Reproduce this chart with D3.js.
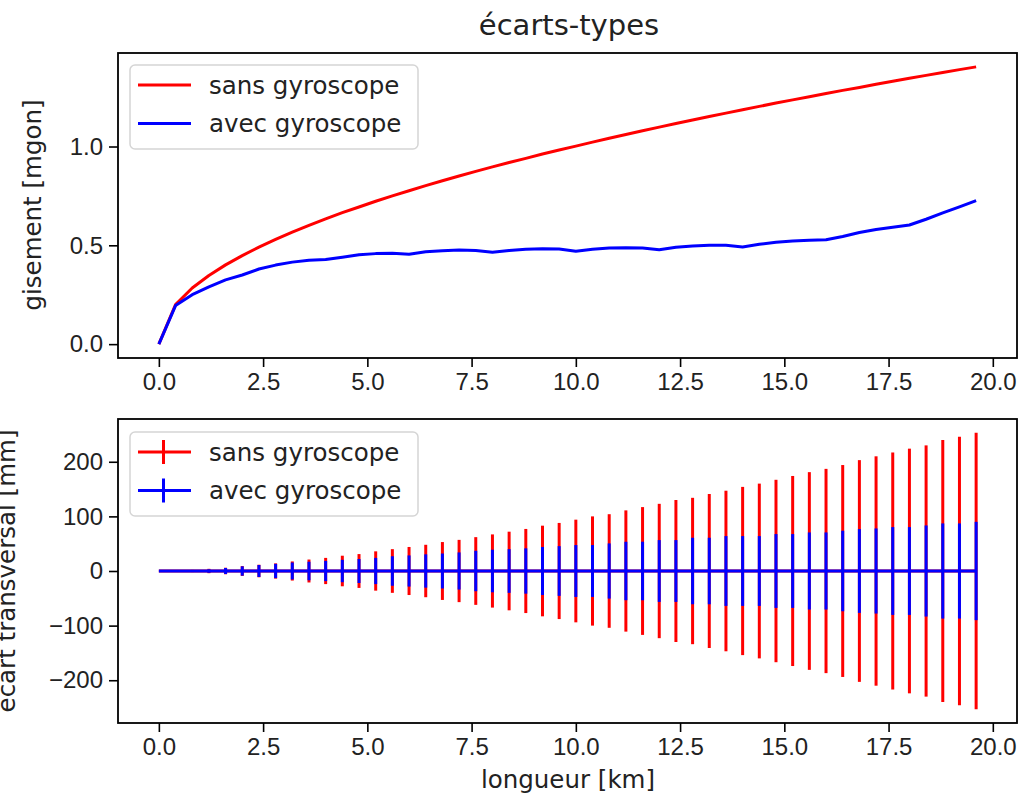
<!DOCTYPE html>
<html>
<head>
<meta charset="utf-8">
<script src="https://cdn.jsdelivr.net/npm/d3@7"></script>
<style>
  body { margin: 0; background: #fff; }
  svg { font-family: "DejaVu Sans", sans-serif; }
  .tick text { font-size: 24px; fill: #222; }
</style>
</head>
<body>
<div class="container"></div>
<script>
// distances along the traverse [km]
var longueur = [0, 0.4, 0.8, 1.2, 1.6, 2.0, 2.4, 2.8, 3.2, 3.6, 4.0, 4.4, 4.8, 5.2, 5.6, 6.0, 6.4, 6.8, 7.2, 7.6,
    8.0, 8.4, 8.8, 9.2, 9.6, 10.0, 10.4, 10.8, 11.2, 11.6, 12.0, 12.4, 12.8, 13.2, 13.6, 14.0, 14.4, 14.8, 15.2, 15.6,
    16.0, 16.4, 16.8, 17.2, 17.6, 18.0, 18.4, 18.8, 19.2, 19.6];

// gisement std dev [mgon]
var gisementSans = [0, 0.200, 0.284, 0.347, 0.401, 0.448, 0.491, 0.530, 0.567, 0.601, 0.634, 0.665, 0.694, 0.723, 0.750,
    0.776, 0.802, 0.827, 0.851, 0.874, 0.897, 0.919, 0.940, 0.962, 0.982, 1.002, 1.022, 1.042, 1.061, 1.080,
    1.098, 1.116, 1.134, 1.152, 1.169, 1.186, 1.203, 1.220, 1.236, 1.252, 1.268, 1.284, 1.299, 1.315, 1.330,
    1.345, 1.360, 1.374, 1.389, 1.403];
var gisementAvec = [0, 0.195, 0.25, 0.29, 0.325, 0.35, 0.38, 0.40, 0.415, 0.425, 0.428, 0.44, 0.452, 0.458, 0.46,
    0.455, 0.467, 0.473, 0.476, 0.474, 0.465, 0.474, 0.48, 0.483, 0.481, 0.47, 0.48, 0.486, 0.488, 0.486,
    0.478, 0.49, 0.497, 0.50, 0.50, 0.492, 0.505, 0.515, 0.522, 0.526, 0.528, 0.545, 0.565, 0.58, 0.592,
    0.603, 0.632, 0.664, 0.695, 0.726];

// transverse std dev [mm]
var transSans = [0, 0.7, 2, 4, 6, 9, 11.5, 14, 17.5, 21, 24, 28, 31, 36, 40, 44, 48, 53, 57, 62,
    67, 72, 77, 83, 88, 94, 100, 104, 111, 117, 123, 130, 134, 141, 147, 154, 160, 167, 174, 181,
    187, 194, 203, 210, 217, 224, 230, 240, 246, 253];
var transAvec = [0, 0.5, 1.5, 3, 5.5, 8.5, 11, 13, 15.5, 17, 18.5, 20.5, 22, 24, 27, 28.5, 30.5, 32, 34, 37,
    39, 40, 41.5, 44, 45.5, 47.5, 47.5, 50.5, 53.5, 53.6, 56.6, 56.6, 60.9, 60.9, 63.9, 63.9, 63.9, 67.6, 67.6, 70.6,
    70.6, 73.7, 76.7, 77.9, 80.4, 80.4, 83.4, 87.1, 87.1, 90];

var xTicks = [0, 2.5, 5, 7.5, 10, 12.5, 15, 17.5, 20];
var yTicksTop = [0, 0.5, 1.0];
var yTicksBottom = [-200, -100, 0, 100, 200];
var seriesNames = ["sans gyroscope", "avec gyroscope"];
var seriesColors = ["#ff0000", "#0000ff"];

var width = 1030, height = 802;
var left = 118, right = 1017;

var svg = d3.select('.container').append('svg')
    .attr('width', width)
    .attr('height', height);

function pad(lo, hi) {
    var m = (hi - lo) * 0.05;
    return [lo - m, hi + m];
}

var x = d3.scaleLinear().domain(pad(d3.min(longueur), d3.max(longueur))).range([left, right]);

function drawAxes(top, bottom, y, yTicks, yFmt) {
    var g = svg.append('g');
    g.append('g')
        .attr('transform', 'translate(0,' + bottom + ')')
        .call(d3.axisBottom(x).tickValues(xTicks).tickFormat(d3.format('.1f')).tickSizeOuter(0).tickSize(9).tickPadding(6));
    g.append('g')
        .attr('transform', 'translate(' + left + ',0)')
        .call(d3.axisLeft(y).tickValues(yTicks).tickFormat(yFmt).tickSizeOuter(0).tickSize(9).tickPadding(6));
    g.selectAll('.domain').remove();
    g.selectAll('.tick line').attr('stroke', '#000').attr('stroke-width', 1.6);
    g.append('rect')
        .attr('x', left).attr('y', top)
        .attr('width', right - left).attr('height', bottom - top)
        .attr('fill', 'none').attr('stroke', '#000').attr('stroke-width', 1.8);
}

function drawLegend(y0, errorStyle) {
    var lg = svg.append('g');
    lg.append('rect')
        .attr('x', 130).attr('y', y0)
        .attr('width', 288).attr('height', 84)
        .attr('rx', 5)
        .attr('fill', 'rgba(255,255,255,0.8)')
        .attr('stroke', '#d5d5d5').attr('stroke-width', 1.5);
    seriesNames.forEach(function (name, i) {
        var cy = y0 + 20 + i * 38.5;
        lg.append('line')
            .attr('x1', 138).attr('x2', 191).attr('y1', cy).attr('y2', cy)
            .attr('stroke', seriesColors[i]).attr('stroke-width', 3);
        if (errorStyle) {
            lg.append('line')
                .attr('x1', 163.5).attr('x2', 163.5).attr('y1', cy - 12).attr('y2', cy + 12)
                .attr('stroke', seriesColors[i]).attr('stroke-width', 3);
        }
        lg.append('text')
            .attr('x', 209).attr('y', cy + 8.5)
            .attr('font-size', '24.5px').attr('fill', '#222')
            .text(name);
    });
}

// ---- top: gisement
var topY = d3.scaleLinear().domain(pad(0, d3.max(gisementSans))).range([358, 53]);
drawAxes(53, 358, topY, yTicksTop, d3.format('.1f'));

var lineTop = d3.line()
    .x(function (d) { return x(d[0]); })
    .y(function (d) { return topY(d[1]); });

[gisementSans, gisementAvec].forEach(function (vals, i) {
    svg.append('path')
        .datum(d3.zip(longueur, vals))
        .attr('d', lineTop)
        .attr('fill', 'none')
        .attr('stroke', seriesColors[i])
        .attr('stroke-width', 3)
        .attr('stroke-linejoin', 'round');
});
drawLegend(65, false);

svg.append('text')
    .attr('x', 569).attr('y', 35)
    .attr('text-anchor', 'middle')
    .attr('font-size', '29px').attr('fill', '#222')
    .text('écarts-types');

svg.append('text')
    .attr('transform', 'translate(41,205) rotate(-90)')
    .attr('text-anchor', 'middle')
    .attr('font-size', '24.5px').attr('fill', '#222')
    .text('gisement [mgon]');

// ---- bottom: écart transversal
var maxT = d3.max(transSans) * 1.1;
var botY = d3.scaleLinear().domain([-maxT, maxT]).range([723, 419]);
drawAxes(419, 723, botY, yTicksBottom, function (d) { return d < 0 ? '\u2212' + Math.abs(d) : d; });

[transSans, transAvec].forEach(function (vals, i) {
    var g = svg.append('g');
    g.selectAll('line.err')
        .data(d3.zip(longueur, vals))
        .enter().append('line')
        .attr('class', 'err')
        .attr('x1', function (d) { return x(d[0]); })
        .attr('x2', function (d) { return x(d[0]); })
        .attr('y1', function (d) { return botY(-d[1]); })
        .attr('y2', function (d) { return botY(d[1]); })
        .attr('stroke', seriesColors[i])
        .attr('stroke-width', 3);
    g.append('line')
        .attr('x1', x(longueur[0])).attr('x2', x(longueur[longueur.length - 1]))
        .attr('y1', botY(0)).attr('y2', botY(0))
        .attr('stroke', seriesColors[i])
        .attr('stroke-width', 3);
});
drawLegend(432, true);

svg.append('text')
    .attr('transform', 'translate(15,571) rotate(-90)')
    .attr('text-anchor', 'middle')
    .attr('font-size', '24.5px').attr('fill', '#222')
    .text('écart transversal [mm]');

svg.append('text')
    .attr('x', 568).attr('y', 788)
    .attr('text-anchor', 'middle')
    .attr('font-size', '24.5px').attr('fill', '#222')
    .text('longueur [km]');
</script>
</body>
</html>
